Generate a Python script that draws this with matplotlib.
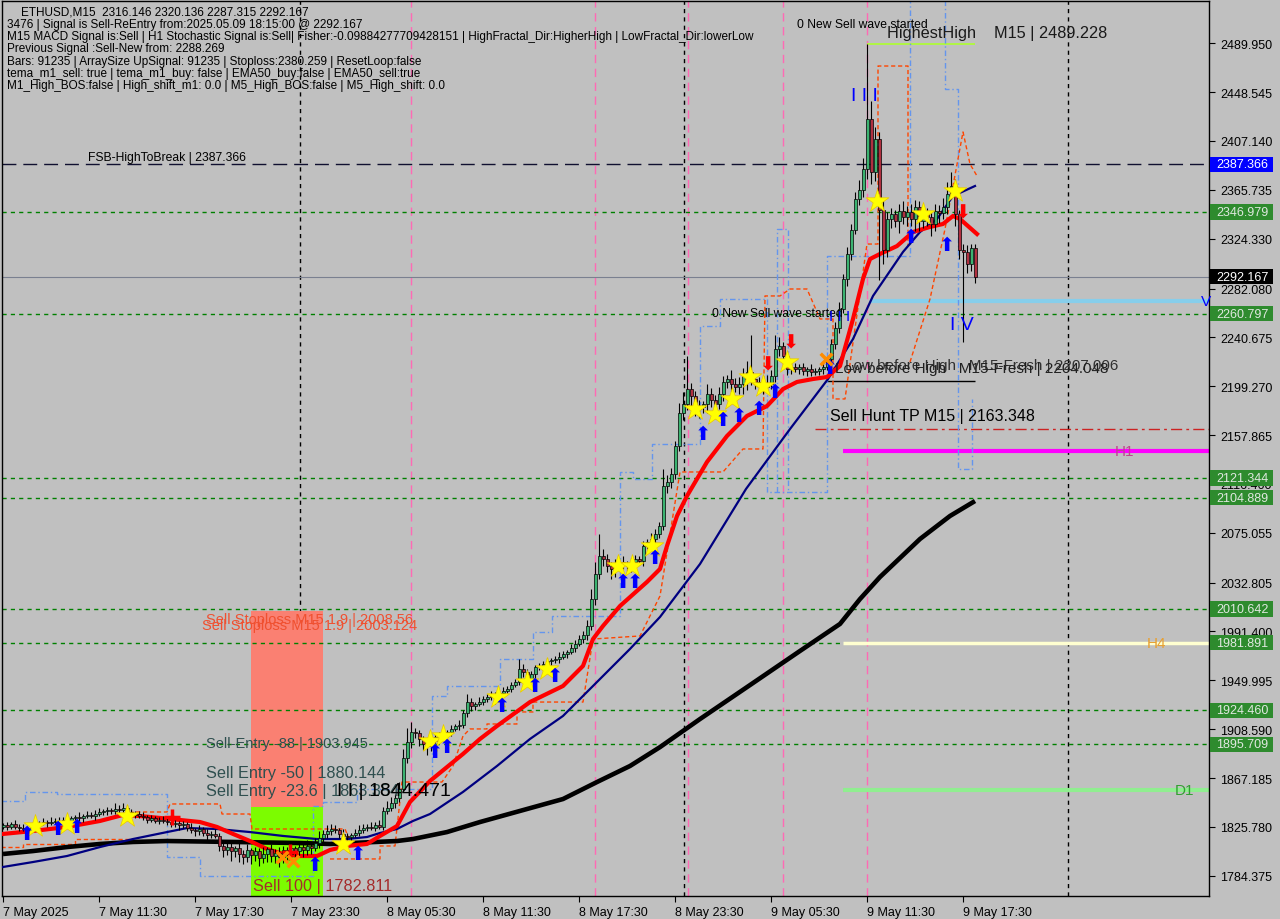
import matplotlib
matplotlib.use("Agg")
import matplotlib.pyplot as plt
from matplotlib.patches import Rectangle
from matplotlib.transforms import blended_transform_factory

plt.rcParams['font.family'] = ['Liberation Sans', 'DejaVu Sans']

# ---------------- data (bar index = one M15 bar) ----------------
first_open = 1826.0
closes = [
    1827, 1826, 1828, 1826, 1825, 1824, 1823, 1825, 1828, 1829,
    1830, 1829, 1830, 1831, 1830, 1832, 1831, 1833, 1834, 1833,
    1835, 1836, 1835, 1837, 1838, 1839, 1840, 1839, 1841, 1840,
    1842, 1838, 1836, 1837, 1835, 1834, 1832, 1833, 1831, 1832,
    1831, 1830, 1828, 1829, 1827, 1828, 1825, 1823, 1822, 1824,
    1821, 1819, 1820, 1818, 1810, 1806, 1809, 1805, 1808, 1803,
    1800, 1806, 1802, 1805, 1799, 1803, 1807, 1801, 1804, 1800,
    1806, 1803, 1808, 1805, 1809, 1806, 1810, 1808, 1812, 1816,
    1820, 1822, 1824, 1823, 1820, 1818, 1817, 1819, 1821, 1823,
    1825, 1826, 1825, 1827, 1826, 1839, 1842, 1846, 1850, 1858,
    1884, 1898, 1906, 1905, 1900, 1896, 1894, 1899, 1902, 1904,
    1905, 1906, 1909, 1911, 1912, 1922, 1932, 1928, 1930, 1932,
    1934, 1936, 1937, 1934, 1939, 1941, 1943, 1946, 1949, 1960,
    1957, 1951, 1955, 1961, 1962, 1964, 1966, 1967, 1968, 1970,
    1972, 1974, 1977, 1981, 1985, 1988, 1996, 2019, 2040, 2055,
    2053, 2047, 2044, 2049, 2050, 2048, 2047, 2050, 2053, 2051,
    2064, 2067, 2070, 2074, 2081, 2115, 2118, 2125, 2149, 2177,
    2184, 2197, 2191, 2180, 2182, 2184, 2193, 2188, 2184, 2193,
    2203, 2205, 2201, 2199, 2201, 2208, 2211, 2205, 2203, 2201,
    2199, 2201, 2208, 2231, 2233, 2225, 2214, 2216, 2214, 2216,
    2212, 2214, 2211, 2212, 2214, 2216, 2222, 2235, 2249, 2265,
    2290, 2311, 2332, 2358, 2366, 2383, 2426, 2381, 2409, 2349,
    2315, 2341, 2345, 2339, 2348, 2343, 2347, 2341, 2351, 2339,
    2345, 2343, 2337, 2348, 2346, 2351, 2362, 2369, 2345, 2315,
    2313, 2303, 2316.146, 2292.167,
]
wick_hi = [
    2, 3, 2, 4, 2, 3, 2, 2, 3, 2, 3, 2, 4, 2, 3, 2, 3, 2, 2, 4,
    2, 3, 2, 3, 4, 2, 3, 2, 5, 3, 4, 2, 3, 2, 2, 3, 2, 3, 2, 2,
    3, 2, 2, 3, 2, 3, 2, 4, 2, 3, 2, 3, 2, 4, 3, 5, 3, 4, 2, 6,
    3, 5, 2, 4, 3, 6, 2, 4, 3, 5, 4, 3, 5, 2, 4, 3, 5, 3, 4, 6,
    3, 5, 4, 3, 2, 4, 3, 2, 3, 4, 3, 2, 4, 3, 5, 4, 6, 5, 4, 6,
    8, 12, 9, 4, 3, 3, 2, 3, 3, 2, 3, 2, 3, 2, 4, 3, 6, 3, 2, 4,
    3, 2, 4, 3, 2, 3, 2, 3, 2, 8, 4, 3, 3, 2, 3, 2, 3, 2, 3, 4,
    3, 2, 4, 3, 3, 4, 5, 8, 10, 19, 6, 4, 3, 4, 3, 5, 3, 4, 3, 2,
    4, 3, 5, 4, 3, 14, 6, 5, 4, 8, 10, 28, 5, 4, 6, 3, 8, 5, 4, 6,
    5, 4, 8, 5, 6, 7, 10, 32, 5, 4, 6, 8, 5, 12, 8, 4, 3, 4, 3, 2,
    3, 2, 4, 3, 2, 3, 2, 4, 5, 6, 4, 6, 5, 6, 8, 10, 63, 15, 10, 6,
    8, 6, 5, 4, 6, 8, 5, 7, 6, 5, 6, 5, 4, 6, 5, 8, 10, 12, 6, 4,
    5, 6, 4, 4,
]
wick_lo = [
    2, 3, 2, 2, 3, 2, 4, 2, 3, 2, 2, 3, 2, 2, 3, 2, 2, 3, 2, 2,
    3, 2, 2, 3, 2, 2, 3, 2, 2, 3, 2, 3, 2, 3, 2, 2, 3, 2, 2, 3,
    2, 3, 2, 2, 4, 2, 3, 2, 4, 3, 3, 4, 3, 2, 5, 6, 4, 8, 5, 7,
    6, 4, 8, 5, 6, 4, 7, 5, 6, 8, 5, 6, 4, 7, 5, 6, 4, 5, 3, 4,
    3, 4, 3, 2, 4, 3, 2, 3, 2, 3, 2, 3, 2, 3, 2, 3, 2, 3, 4, 3,
    3, 4, 5, 4, 6, 5, 7, 4, 3, 4, 3, 2, 3, 2, 3, 2, 3, 4, 3, 2,
    3, 2, 3, 4, 2, 3, 2, 3, 2, 3, 4, 3, 2, 3, 2, 3, 2, 3, 2, 3,
    2, 3, 2, 3, 2, 3, 4, 3, 5, 4, 6, 5, 8, 6, 5, 4, 6, 5, 4, 3,
    4, 3, 5, 4, 3, 4, 6, 5, 4, 5, 6, 5, 12, 6, 8, 5, 7, 6, 5, 4,
    6, 5, 7, 5, 6, 8, 12, 5, 6, 5, 6, 5, 4, 5, 6, 8, 5, 4, 3, 4,
    3, 4, 3, 2, 3, 4, 3, 2, 4, 5, 4, 6, 5, 4, 5, 6, 8, 10, 8, 60,
    12, 6, 8, 5, 10, 6, 8, 6, 10, 8, 6, 8, 10, 6, 8, 5, 6, 4, 10, 8,
    76, 8, 6, 5,
]

# moving averages, read at sample bars
ema_fast_x = [0, 7.5, 16, 24.25, 30, 34.25, 41.75, 49.25, 53.5, 57.5, 61.75, 66, 70, 74.25,
              78.5, 81.75, 86, 91, 94.25, 98.5, 101.75, 106.75, 111, 115, 119.25, 123.5,
              131.75, 140, 145, 147.5, 150, 154.25, 161, 164.25, 166, 168.5, 171, 176, 181,
              186, 191, 195, 198.5, 202.5, 206, 209.25, 212.5, 215, 216.75, 219.25, 223.5,
              227.5, 231.75, 235, 237.5, 239.25, 243.5]
ema_fast_y = [1819.8, 1822.3, 1825.7, 1830.8, 1835.9, 1835.0, 1832.5, 1829.9, 1825.7, 1819.8,
              1813.8, 1807.0, 1802.8, 1801.1, 1801.1, 1806.2, 1809.6, 1811.3, 1818.1, 1826.5,
              1846.9, 1864.7, 1876.5, 1887.6, 1900.3, 1911.3, 1931.6, 1945.2, 1962.2, 1985.0,
              1996.1, 2013.0, 2033.4, 2044.4, 2063.9, 2089.3, 2106.3, 2135.1, 2157.1, 2174.1,
              2182.5, 2196.9, 2202.9, 2205.4, 2207.1, 2216.4, 2256.3, 2290.2, 2307.1, 2311.4,
              2318.1, 2330.0, 2334.3, 2336.8, 2343.6, 2341.0, 2328.3]
ema50_x = [0, 7.5, 16, 24.25, 32.5, 41, 46, 53.5, 61.75, 70, 78.5, 86, 91, 94.25, 98.5, 102.5,
           106.75, 115, 123.5, 131.75, 140, 148.5, 156.75, 164.25, 174.25, 185.75, 196.75,
           206.25, 212.5, 217.5, 225, 229.25, 233.5, 237.5, 243]
ema50_y = [1791.8, 1796.0, 1801.1, 1808.7, 1815.5, 1821.4, 1824.8, 1824.0, 1821.4, 1818.1,
           1815.5, 1815.5, 1817.2, 1820.6, 1824.0, 1830.8, 1836.7, 1855.4, 1877.4, 1900.3,
           1919.8, 1948.6, 1976.6, 2003.7, 2048.6, 2112.2, 2163.0, 2205.4, 2239.3, 2275.8,
           2313.1, 2330.0, 2341.0, 2360.5, 2369.0]
ema200_x = [0, 7.5, 16, 24.25, 32.5, 41, 57.5, 74.25, 81.75, 98.5, 102.5, 111, 119.25, 140,
            148.5, 156.75, 164.25, 174.25, 186.75, 199.25, 209.25, 214.25, 219.25, 229.25,
            236.75, 243]
ema200_y = [1802.8, 1805.3, 1808.7, 1811.3, 1813.0, 1813.8, 1813.0, 1812.1, 1811.3, 1813.8,
            1815.5, 1821.4, 1829.9, 1849.4, 1863.8, 1877.4, 1893.4, 1917.2, 1946.0, 1974.9,
            1997.8, 2018.9, 2037.6, 2069.8, 2089.3, 2102.0]

# dashed channel lines (stepped)
blue_ch_x = [-0.5, 5.5, 5.5, 13.5, 13.5, 41, 41, 49.25, 49.25, 77.5, 77.5, 80, 80, 88.5, 88.5,
             107.25, 107.25, 111, 111, 124.25, 124.25, 132.5, 132.5, 137.25, 137.25, 154.25,
             154.25, 157.5, 157.5, 162.25, 162.25, 174.25, 174.25, 179.25, 179.25, 191, 191,
             206, 206, 226.75, 226.75]
blue_ch_y = [1847.7, 1847.7, 1855.3, 1855.3, 1853.6, 1853.6, 1800.3, 1800.3, 1784.2, 1784.2,
             1843.5, 1843.5, 1846.9, 1846.9, 1857.9, 1857.9, 1936.7, 1936.7, 1945.2, 1945.2,
             1968.1, 1968.1, 1991.0, 1991.0, 2004.5, 2004.5, 2126.6, 2126.6, 2120.7, 2120.7,
             2150.3, 2150.3, 2250.3, 2250.3, 2273.2, 2273.2, 2109.6, 2109.6, 2309.7, 2309.7,
             2527.0]
blue_ch2_x = [193.5, 193.5, 196.25, 196.25]
blue_ch2_y = [2109.6, 2332.5, 2332.5, 2109.6]
blue_ch3_x = [235.5, 235.5, 238.75, 238.75, 242.25, 242.25]
blue_ch3_y = [2527.0, 2451.2, 2451.2, 2129.1, 2129.1, 2188.5]
orange_l_x = [-0.5, 5, 5, 18, 18, 31.75]
orange_l_y = [1808.7, 1808.7, 1811.3, 1811.3, 1815.5, 1815.5]
orange_a_x = [31, 32.5, 41, 41.75, 54.25, 54.75, 61.75, 62.25, 85.5, 86.75]
orange_a_y = [1830.8, 1838.4, 1838.4, 1845.2, 1845.2, 1836.7, 1836.7, 1824.0, 1824.0, 1813.8]
orange_b_x = [81.75, 94.25, 94.25, 98, 99.75, 109.75, 112.5, 115, 116.75, 121, 121, 128.5,
              128.5, 132.5, 132.5, 145, 147.5, 159.25, 164.25, 169.25, 180, 185, 190, 190.5,
              194.25, 196.75, 201, 204.25, 207.5, 207.5, 210.5, 216, 218.75, 218.75, 226.25,
              226.25]
orange_b_y = [1798.6, 1798.6, 1809.6, 1809.6, 1863.8, 1863.8, 1877.4, 1902.8, 1908.8, 1908.8,
              1913.0, 1913.0, 1923.2, 1923.2, 1931.6, 1931.6, 1985.0, 1987.6, 2021.5, 2126.6,
              2126.6, 2146.1, 2146.1, 2275.8, 2275.8, 2281.7, 2281.7, 2256.3, 2256.3, 2188.5,
              2188.5, 2319.8, 2319.8, 2470.7, 2470.7, 2318.1]
orange_c_x = [226.75, 231.75, 235.5, 240, 241.75, 243.5]
orange_c_y = [2219.8, 2273.2, 2332.5, 2414.8, 2387.6, 2377.5]

# signal markers
star_x = [8, 16, 31, 85, 106.75, 110, 123.75, 131, 136, 153.75, 157.25, 162.25, 173, 178,
          182.25, 186.75, 190, 196, 218.5, 230, 238]
star_y = [1826.5, 1828.2, 1835.0, 1811.3, 1898.6, 1902.8, 1935.9, 1948.6, 1959.6, 2046.9,
          2046.9, 2063.9, 2180.0, 2175.8, 2188.5, 2207.1, 2199.5, 2219.8, 2356.3, 2345.3, 2364.8]
up_x = [6, 13.75, 18.5, 78, 88.75, 108, 111, 124.75, 133, 138, 155, 158, 163, 175, 180, 184,
        189, 193, 206.75, 227, 236]
up_y = [1819.8, 1824.0, 1826.5, 1794.3, 1802.8, 1889.3, 1893.5, 1928.3, 1945.2, 1953.7,
        2033.4, 2033.4, 2054.5, 2158.8, 2171.5, 2174.1, 2180.8, 2194.4, 2215.0, 2326.6, 2319.8]
down_x = [191.25, 197, 240]
down_y = [2218.1, 2236.8, 2347.0]
cross_x = [42.25, 71.75]
cross_y = [1834.2, 1804.5]
xmark_x = [69.75, 72.5, 205.75]
xmark_y = [1800.2, 1796.9, 2222.4]

# levels
fsb_level = 2387.366
last_price = 2292.167
green_levels = [2346.979, 2260.797, 2121.344, 2104.889, 2010.642, 1981.891, 1924.460, 1895.709]
highest_high = 2489.228
low_before_high = 2204.048
hunt_tp = 2163.348
v_level = 2271.5
h1_level = 2144.4
h4_level = 1981.891
d1_level = 1857.1
stoploss_top = 2008.56
entry_mid = 1842.8

price_ticks = [2489.950, 2448.545, 2407.140, 2365.735, 2324.330, 2282.080, 2240.675, 2199.270,
               2157.865, 2116.460, 2075.055, 2032.805, 1991.400, 1949.995, 1908.590, 1867.185,
               1825.780, 1784.375]
time_ticks = [0, 24, 48, 72, 96, 120, 144, 168, 192, 216, 240]
time_labels = ["7 May 2025", "7 May 11:30", "7 May 17:30", "7 May 23:30", "8 May 05:30",
               "8 May 11:30", "8 May 17:30", "8 May 23:30", "9 May 05:30", "9 May 11:30",
               "9 May 17:30"]
day_sep = [74.25, 170.25, 266.25]
pink_sep = [102, 148, 171.25, 195, 216]

header = [
    "ETHUSD,M15  2316.146 2320.136 2287.315 2292.167",
    "3476 | Signal is Sell-ReEntry from:2025.05.09 18:15:00 @ 2292.167",
    "M15 MACD Signal is:Sell | H1 Stochastic Signal is:Sell| Fisher:-0.09884277709428151 | "
    "HighFractal_Dir:HigherHigh | LowFractal_Dir:lowerLow",
    "Previous Signal :Sell-New from: 2288.269",
    "Bars: 91235 | ArraySize UpSignal: 91235 | Stoploss:2380.259 | ResetLoop:false",
    "tema_m1_sell: true | tema_m1_buy: false | EMA50_buy:false | EMA50_sell:true",
    "M1_High_BOS:false | High_shift_m1: 0.0 | M5_High_BOS:false | M5_High_shift: 0.0",
]

# ---------------- figure ----------------
BG = '#C0C0C0'
fig = plt.figure(figsize=(12.8, 9.2), dpi=100, facecolor=BG)
ax = fig.add_axes([2 / 1280, 23 / 920, 1207 / 1280, 895 / 920])
ax.set_facecolor(BG)
ax.set_xlim(-0.25, 301.5)
ax.set_ylim(1767.2, 2525.8)

# separators
for x in day_sep:
    ax.axvline(x, color='black', lw=1, ls=(0, (3, 3)), zorder=1)
for x in pink_sep:
    ax.axvline(x, color='#FF69B4', lw=1, ls=(0, (6, 4)), zorder=1)

# zones
ax.add_patch(Rectangle((62, entry_mid), 18, stoploss_top - entry_mid, color='#FA8072', lw=0, zorder=1))
ax.add_patch(Rectangle((62, 1760), 18, entry_mid - 1760, color='#7CFC00', lw=0, zorder=1))

# horizontal levels
for lv in green_levels:
    ax.axhline(lv, color='#008000', lw=1, ls=(0, (3, 3)), zorder=1.5)
ax.axhline(fsb_level, color='#101030', lw=1, ls=(0, (10, 5)), zorder=1.5)
ax.axhline(last_price, color='#7A8090', lw=0.8, zorder=1.5)
ax.hlines(v_level, 216.75, 301.5, color='#87CEEB', lw=3, zorder=1.5)
ax.hlines(h1_level, 210, 301.5, color='#FF00FF', lw=3, zorder=1.5)
ax.hlines(h4_level, 210, 301.5, color='#FFFFD0', lw=2.5, zorder=1.6)
ax.hlines(d1_level, 210, 301.5, color='#90EE90', lw=3, zorder=1.5)
ax.hlines(hunt_tp, 203, 301.5, color='#CC2222', lw=1, ls=(0, (8, 3, 2, 3)), zorder=1.5)
ax.hlines(low_before_high, 206, 243, color='black', lw=1, zorder=1.5)
ax.hlines(highest_high, 216, 243, color='#ADFF2F', lw=1.2, zorder=1.5)

# channels
ax.plot(blue_ch_x, blue_ch_y, color='#6495ED', lw=1, ls=(0, (4, 2, 1, 2)), zorder=2)
ax.plot(blue_ch2_x, blue_ch2_y, color='#6495ED', lw=1, ls=(0, (4, 2, 1, 2)), zorder=2)
ax.plot(blue_ch3_x, blue_ch3_y, color='#6495ED', lw=1, ls=(0, (4, 2, 1, 2)), zorder=2)
for xs, ys in [(orange_l_x, orange_l_y), (orange_a_x, orange_a_y),
               (orange_b_x, orange_b_y), (orange_c_x, orange_c_y)]:
    ax.plot(xs, ys, color='#FF4500', lw=1, ls=(0, (3, 2)), zorder=2)

# moving averages
ax.plot(ema200_x, ema200_y, color='black', lw=3.3, zorder=3, solid_capstyle='butt')
ax.plot(ema50_x, ema50_y, color='#000080', lw=1.6, zorder=3)
ax.plot(ema_fast_x, ema_fast_y, color='#FF0000', lw=3, zorder=3.5)

# candles
opens = [first_open] + closes[:-1]
for i, (o, c, wh, wl) in enumerate(zip(opens, closes, wick_hi, wick_lo)):
    hi = max(o, c) + wh
    lo = min(o, c) - wl
    ax.vlines(i, lo, hi, color='black', lw=0.8, zorder=4)
    body = c - o if abs(c - o) > 0.6 else 0.6
    col = '#3CB371' if c >= o else '#B03040'
    ax.bar(i, body, bottom=o, width=0.75, color=col, edgecolor='black', lw=0.5, zorder=4.5)

# markers
ax.scatter(star_x, star_y, marker='*', s=300, color='#FFFF00', edgecolor='#E8C800', lw=0.5, zorder=6)
for x, y in zip(up_x, up_y):
    ax.text(x, y, '\u2B06', color='#0000FF', fontsize=14, ha='center', va='center',
            family='DejaVu Sans', zorder=6)
for x, y in zip(down_x, down_y):
    ax.text(x, y, '\u2B07', color='#FF0000', fontsize=14, ha='center', va='center',
            family='DejaVu Sans', zorder=6)
ax.scatter(cross_x, cross_y, marker='+', s=120, color='#FF0000', lw=2.5, zorder=6)
ax.scatter(xmark_x, xmark_y, marker='x', s=70, color='#FF8C00', lw=2.5, zorder=6)

# chart labels
def lab(x, y, s, size=9, color='black', **kw):
    ax.text(x, y, s, fontsize=size, color=color, ha='left', va='center', zorder=7, **kw)

lab(21.25, 2393.6, "FSB-HighToBreak | 2387.366", 8.7)
lab(198.5, 2506.3, "0 New Sell wave started", 8.7)
lab(221, 2499.5, "HighestHigh    M15 | 2489.228", 11.7, '#1a1a1a')
lab(177.25, 2261.4, "0 New Sell wave started", 8.7)
lab(212.0, 2445.3, "I I I", 14, '#0000FF')
lab(206.5, 2258.8, "I I I", 11, '#0000FF')
lab(236.75, 2252.0, "I V", 14, '#0000FF')
lab(210.5, 2217.3, "Low before High   M15-Fresh | 2207.006", 11, '#303030')
lab(208.0, 2214.7, "Low before High   M15-Fresh | 2204.048", 11, '#202020')
lab(206.75, 2174.1, "Sell Hunt TP M15 | 2163.348", 11.5)
lab(278.0, h1_level, "H1", 11, '#C04090')
lab(286.0, h4_level, "H4", 11, '#E8A030')
lab(293.0, d1_level, "D1", 11, '#30A030')
lab(299.5, v_level, "V", 11, '#0000FF')
lab(50.75, 2002.0, "Sell Stoploss M15 1.9 | 2008.56", 10.5, '#F05030')
lab(49.75, 1996.9, "Sell Stoploss M15 1.9 | 2003.124", 10.5, '#F05030')
lab(50.75, 1896.9, "Sell-Entry -88 | 1903.945", 10.5, '#2F4F4F')
lab(50.75, 1872.3, "Sell Entry -50 | 1880.144", 11.7, '#2F4F4F')
lab(50.75, 1856.2, "Sell Entry -23.6 | 1863.354", 11.7, '#2F4F4F')
lab(83.5, 1856.2, "I I | 1844.471", 14)
lab(62.5, 1775.7, "Sell 100 | 1782.811", 11.7, '#A52A2A')

# header
for k, line in enumerate(header):
    x0 = 21 if k == 0 else 7
    fig.text(x0 / 1280, 1 - (12.7 + 12.2 * k) / 920, line, fontsize=8.5, va='center', ha='left')

# axes styling
for sp in ax.spines.values():
    sp.set_color('black')
    sp.set_linewidth(1)
ax.yaxis.tick_right()
ax.set_yticks(price_ticks)
ax.set_yticklabels([f"{v:.3f}" for v in price_ticks])
ax.set_xticks(time_ticks)
ax.set_xticklabels(time_labels, ha='left')
ax.tick_params(axis='y', direction='out', length=4, pad=4, labelsize=9, colors='black')
ax.tick_params(axis='x', direction='out', length=4, pad=3, labelsize=9, colors='black')

# price boxes on the right scale
tr = blended_transform_factory(fig.transFigure, ax.transData)
boxes = [(fsb_level, '#0000FF', 'white'), (last_price, 'black', 'white')]
boxes += [(lv, '#2E8B2E', '#E0E8E0') for lv in green_levels]
for lv, fc, tc in boxes:
    ax.add_patch(Rectangle((1210 / 1280, lv - 6.6), 63 / 1280, 13.2, transform=tr,
                           color=fc, lw=0, clip_on=False, zorder=8))
    ax.text(1216 / 1280, lv, f"{lv:.3f}", transform=tr, color=tc, fontsize=9,
            ha='left', va='center', zorder=9, clip_on=False)

fig.savefig('out.png', dpi=100, facecolor=BG)
